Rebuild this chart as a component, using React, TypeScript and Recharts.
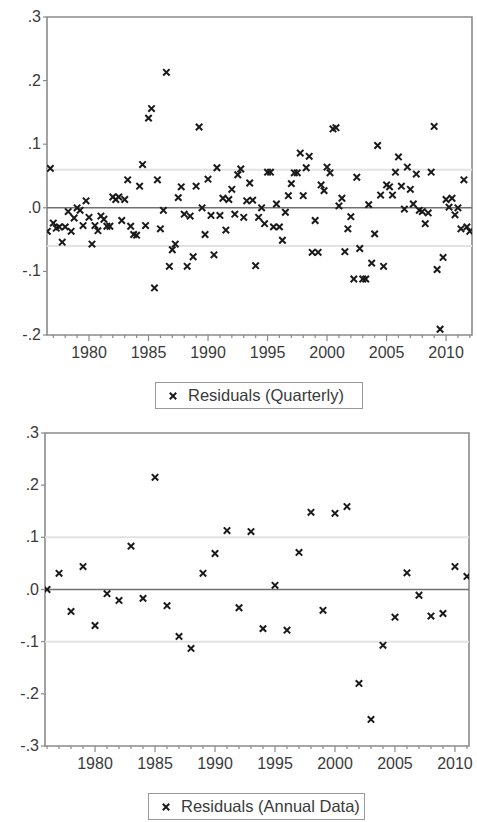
import { ReferenceArea, ReferenceLine, Scatter, ScatterChart, XAxis, YAxis } from "recharts";

// quarterly residuals, first obs 1976Q3
const quarterStart = 1976.5;
const quarterlyResiduals = [
  -0.037, 0.062,
  -0.024, -0.032, -0.03, -0.054,
  -0.03, -0.006, -0.037, -0.016,
  0.0, -0.004, -0.028, 0.011,
  -0.015, -0.057, -0.028, -0.036,
  -0.013, -0.018, -0.029, -0.029,
  0.017, 0.013, 0.017, -0.02,
  0.013, 0.044, -0.029, -0.042,
  -0.043, 0.034, 0.068, -0.028,
  0.141, 0.156, -0.126, 0.044,
  -0.033, -0.004, 0.213, -0.092,
  -0.066, -0.057, 0.016, 0.033,
  -0.01, -0.092, -0.013, -0.077,
  0.034, 0.127, 0.0, -0.042,
  0.045, -0.012, -0.074, 0.063,
  -0.012, 0.015, -0.035, 0.013,
  0.029, -0.01, 0.052, 0.061,
  -0.015, 0.011, 0.039, 0.012,
  -0.091, -0.015, 0.0, -0.025,
  0.056, 0.056, -0.03, 0.006,
  -0.03, -0.051, -0.007, 0.019,
  0.038, 0.055, 0.055, 0.086,
  0.019, 0.063, 0.081, -0.07,
  -0.02, -0.07, 0.036, 0.027,
  0.064, 0.055, 0.124, 0.126,
  0.003, 0.015, -0.069, -0.033,
  -0.014, -0.112, 0.048, -0.064,
  -0.112, -0.112, 0.005, -0.087,
  -0.041, 0.098, 0.02, -0.092,
  0.036, 0.033, 0.02, 0.056,
  0.08, 0.034, -0.002, 0.064,
  0.029, 0.006, 0.053, -0.004,
  -0.006, -0.025, -0.008, 0.056,
  0.128, -0.097, -0.191, -0.078,
  0.013, 0.001, 0.015, -0.011,
  0.0, -0.033, 0.044, -0.03,
  -0.037,
];

const annualYears = [
  1976, 1977, 1978, 1979, 1980, 1981, 1982, 1983, 1984, 1985, 1986, 1987,
  1988, 1989, 1990, 1991, 1992, 1993, 1994, 1995, 1996, 1997, 1998, 1999,
  2000, 2001, 2002, 2003, 2004, 2005, 2006, 2007, 2008, 2009, 2010, 2011,
];
const annualResiduals = [
  0.0, 0.031, -0.042, 0.044, -0.069, -0.008, -0.021, 0.083, -0.017, 0.215, -0.031, -0.09,
  -0.113, 0.031, 0.069, 0.113, -0.035, 0.111, -0.075, 0.008, -0.078, 0.071, 0.148, -0.04,
  0.146, 0.159, -0.18, -0.249, -0.107, -0.053, 0.032, -0.011, -0.051, -0.046, 0.044, 0.025,
];

const topYearTicks = Array.from({ length: 36 }, (_, i) => 1977 + i);
const bottomYearTicks = Array.from({ length: 36 }, (_, i) => 1976 + i);
const topValueTicks = [-0.2, -0.1, 0, 0.1, 0.2, 0.3];
const bottomValueTicks = [-0.3, -0.2, -0.1, 0, 0.1, 0.2, 0.3];

const quarterlyData = quarterlyResiduals.map((r, i) => ({ t: quarterStart + i * 0.25, r }));
const annualData = annualYears.map((t, i) => ({ t, r: annualResiduals[i] }));

const FONT = "'Liberation Sans', Arial, sans-serif";
const TEXT = "#3a3a3a";
const FRAME = "#8a8a8a";

const fmtValue = (v: number) => {
  const n = Math.round(Math.abs(v) * 10);
  if (n === 0) return ".0";
  return (v < 0 ? "-" : "") + "." + n;
};

function Cross(props: any) {
  const { cx, cy } = props;
  if (cx == null || cy == null) return null;
  const s = 3.2;
  return (
    <path
      d={`M${cx - s},${cy - s}L${cx + s},${cy + s}M${cx + s},${cy - s}L${cx - s},${cy + s}`}
      stroke="#1a1a1a"
      strokeWidth={2}
      fill="none"
    />
  );
}

function YearTick(props: any) {
  const { x, y, payload } = props;
  const major = payload.value % 5 === 0;
  return (
    <g>
      <line x1={x} x2={x} y1={y} y2={y + (major ? 6 : 3)} stroke={FRAME} strokeWidth={1.2} />
      {major && (
        <text x={x} y={y + 23} textAnchor="middle" fontSize={16} fontFamily={FONT} fill={TEXT}>
          {payload.value}
        </text>
      )}
    </g>
  );
}

function ValueTick(props: any) {
  const { x, y, payload } = props;
  return (
    <g>
      <line x1={x - 4} x2={x} y1={y} y2={y} stroke={FRAME} strokeWidth={1.2} />
      <text x={x - 6} y={y + 5} textAnchor="end" fontSize={16} fontFamily={FONT} fill={TEXT}>
        {fmtValue(payload.value)}
      </text>
    </g>
  );
}

function LegendBox({ left, top, width, label }: { left: number; top: number; width: number; label: string }) {
  return (
    <div
      style={{
        position: "absolute",
        left,
        top,
        width,
        height: 27,
        border: "1px solid #9a9a9a",
        boxSizing: "border-box",
        display: "flex",
        alignItems: "center",
        fontFamily: FONT,
        fontSize: 16.5,
        color: TEXT,
        whiteSpace: "nowrap",
      }}
    >
      <svg width={32} height={24}>
        <Cross cx={17} cy={12} />
      </svg>
      <span>{label}</span>
    </div>
  );
}

type PanelProps = {
  data: { t: number; r: number }[];
  xDomain: [number, number];
  yDomain: [number, number];
  xTicks: number[];
  yTicks: number[];
  band: number;
  top: number;
  margin: { top: number; right: number; bottom: number; left: number };
  height: number;
};

function Panel({ data, xDomain, yDomain, xTicks, yTicks, band, top, margin, height }: PanelProps) {
  return (
    <div style={{ position: "absolute", left: 0, top }}>
      <ScatterChart width={477} height={height} margin={margin}>
        <XAxis
          type="number"
          dataKey="t"
          domain={xDomain}
          ticks={xTicks}
          allowDataOverflow
          axisLine={false}
          tickLine={false}
          tickSize={0}
          tickMargin={0}
          height={30}
          interval={0}
          tick={<YearTick />}
        />
        <YAxis
          type="number"
          dataKey="r"
          domain={yDomain}
          ticks={yTicks}
          allowDataOverflow
          axisLine={false}
          tickLine={false}
          tickSize={0}
          tickMargin={0}
          width={40}
          interval={0}
          tick={<ValueTick />}
        />
        <ReferenceLine y={band} stroke="#e2e2e2" strokeWidth={2} />
        <ReferenceLine y={-band} stroke="#e2e2e2" strokeWidth={2} />
        <ReferenceLine y={0} stroke="#707070" strokeWidth={1.5} />
        <ReferenceArea
          x1={xDomain[0]}
          x2={xDomain[1]}
          y1={yDomain[0]}
          y2={yDomain[1]}
          fill="none"
          fillOpacity={0}
          stroke={FRAME}
          strokeWidth={1.6}
        />
        <Scatter data={data} shape={<Cross />} isAnimationActive={false} />
      </ScatterChart>
    </div>
  );
}

export default function App() {
  return (
    <div style={{ position: "absolute", left: 0, top: 0, width: 477, height: 822, background: "#fff" }}>
      <Panel
        data={quarterlyData}
        xDomain={[1976.47, 2012.18]}
        yDomain={[-0.2, 0.3]}
        xTicks={topYearTicks}
        yTicks={topValueTicks}
        band={0.06}
        top={0}
        height={370}
        margin={{ top: 17, right: 5, bottom: 5, left: 7 }}
      />
      <LegendBox left={155} top={382} width={208} label="Residuals (Quarterly)" />
      <Panel
        data={annualData}
        xDomain={[1975.83, 2011.17]}
        yDomain={[-0.3, 0.3]}
        xTicks={bottomYearTicks}
        yTicks={bottomValueTicks}
        band={0.1}
        top={400}
        height={380}
        margin={{ top: 33, right: 8, bottom: 4, left: 5 }}
      />
      <LegendBox left={148} top={793} width={217} label="Residuals (Annual Data)" />
    </div>
  );
}
